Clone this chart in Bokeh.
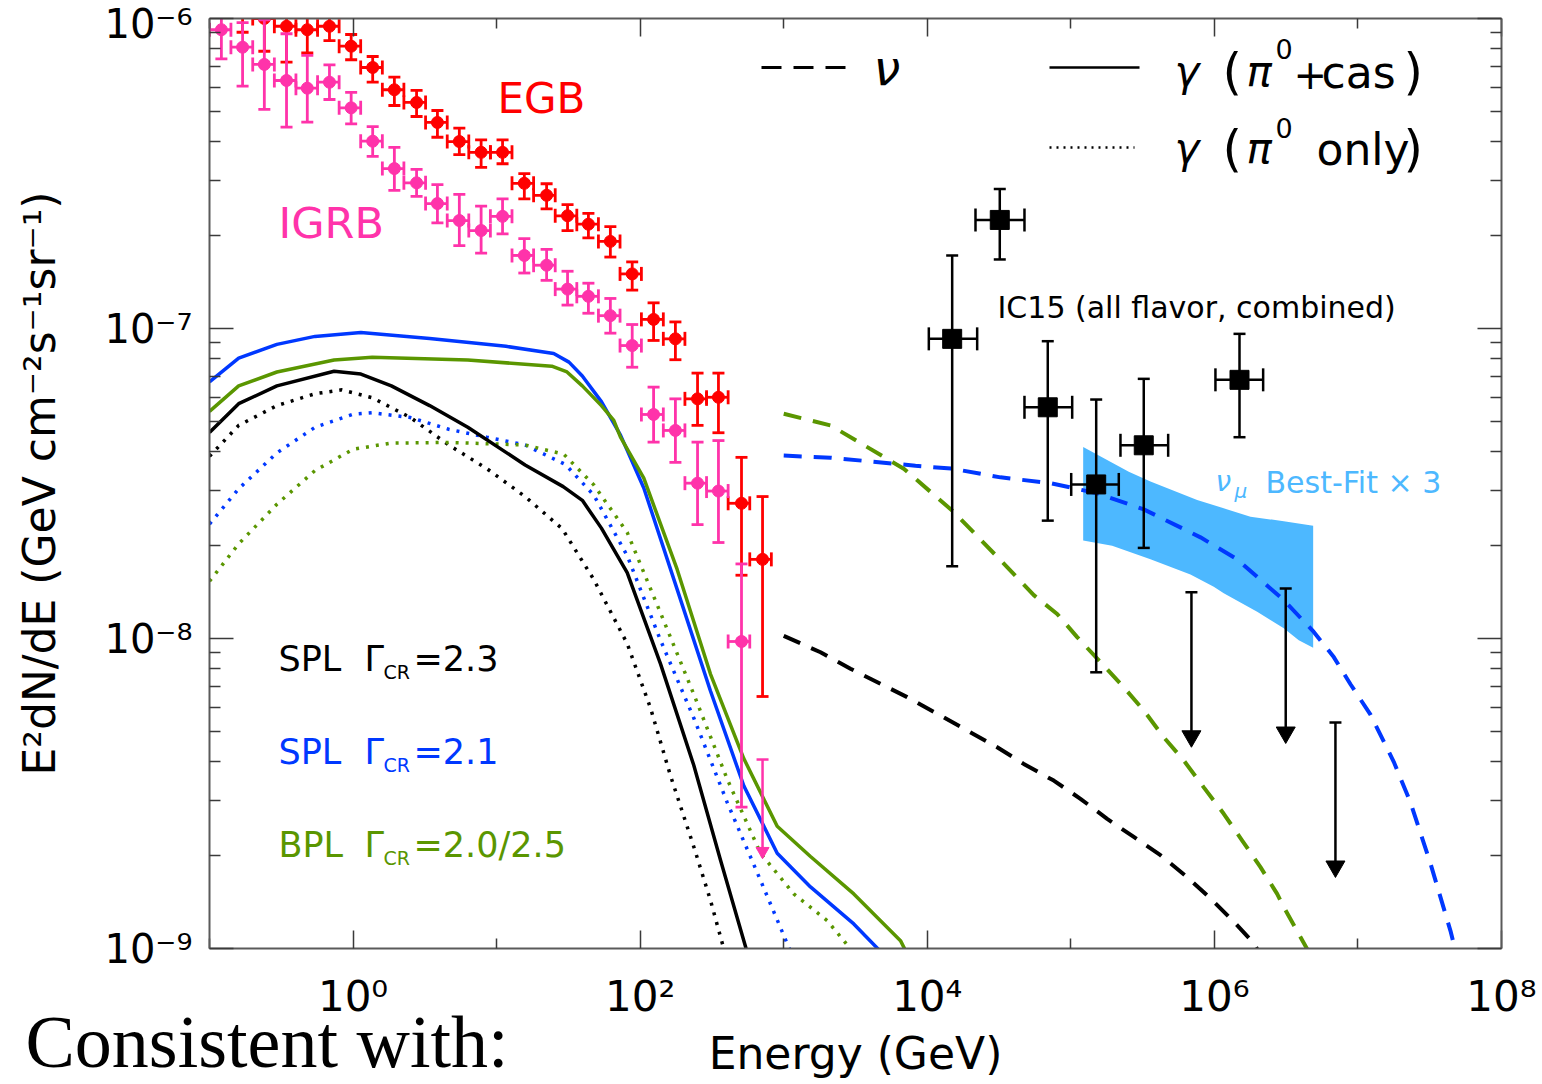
import numpy as np
from bokeh.plotting import figure
from bokeh.models import (Range1d, FixedTicker, LogAxis, Label, Title,
                          CustomJSTickFormatter)
from bokeh.embed import file_html
from bokeh.resources import INLINE

# ---------------------------------------------------------------------------
# Fermi-LAT extragalactic gamma-ray background (EGB) and isotropic background (IGRB)
# energies in GeV, E^2 dN/dE in GeV cm^-2 s^-1 sr^-1
fermi_energy = [0.121, 0.170, 0.241, 0.344, 0.48, 0.685, 0.97, 1.37, 1.94, 2.77, 3.87,
                5.5, 7.8, 11.0, 15.6, 22.3, 31.2, 43.6, 62.0, 88.0, 124.0, 176.0, 251.0,
                351.0, 508.0, 712.0]
fermi_edges = [0.1, 0.141, 0.2, 0.283, 0.4, 0.566, 0.8, 1.13, 1.6, 2.26, 3.2, 4.53, 6.4,
               9.05, 12.8, 18.1, 25.6, 36.2, 51.2, 72.4, 102.0, 145.0, 205.0, 290.0, 410.0,
               580.0, 820.0]

egb_flux = [1.33e-6, 1.13e-6, 1.00e-6, 9.44e-7, 9.20e-7, 9.44e-7, 8.14e-7, 6.95e-7, 5.89e-7,
            5.36e-7, 4.62e-7, 4.01e-7, 3.70e-7, 3.70e-7, 2.94e-7, 2.69e-7, 2.31e-7, 2.17e-7,
            1.91e-7, 1.50e-7, 1.07e-7, 9.26e-8, 5.93e-8, 6.00e-8, 2.73e-8, 1.80e-8]
egb_low = [1.04e-6, 9.03e-7, 7.84e-7, 7.23e-7, 7.75e-7, 8.49e-7, 7.36e-7, 6.23e-7, 5.24e-7,
           4.83e-7, 4.14e-7, 3.64e-7, 3.31e-7, 3.40e-7, 2.62e-7, 2.43e-7, 2.07e-7, 1.96e-7,
           1.70e-7, 1.33e-7, 9.15e-8, 7.93e-8, 4.87e-8, 4.61e-8, 1.60e-8, 6.5e-9]
egb_high = [1.70e-6, 1.40e-6, 1.25e-6, 1.23e-6, 1.09e-6, 1.05e-6, 8.88e-7, 7.54e-7, 6.47e-7,
            5.86e-7, 5.05e-7, 4.43e-7, 4.06e-7, 4.06e-7, 3.16e-7, 2.93e-7, 2.51e-7, 2.35e-7,
            2.13e-7, 1.64e-7, 1.21e-7, 1.05e-7, 7.18e-8, 7.18e-8, 3.84e-8, 2.87e-8]

igrb_flux = [9.20e-7, 8.08e-7, 7.11e-7, 6.31e-7, 5.96e-7, 6.23e-7, 5.15e-7, 4.02e-7, 3.28e-7,
             2.95e-7, 2.53e-7, 2.23e-7, 2.07e-7, 2.30e-7, 1.72e-7, 1.60e-7, 1.34e-7, 1.27e-7,
             1.10e-7, 8.81e-8, 5.28e-8, 4.69e-8, 3.17e-8, 2.99e-8, 9.78e-9]
igrb_low = [7.41e-7, 6.05e-7, 5.09e-7, 4.46e-7, 4.63e-7, 5.48e-7, 4.57e-7, 3.59e-7, 2.79e-7,
            2.67e-7, 2.19e-7, 1.85e-7, 1.75e-7, 2.02e-7, 1.51e-7, 1.43e-7, 1.19e-7, 1.12e-7,
            9.66e-8, 7.50e-8, 4.30e-8, 3.70e-8, 2.33e-8, 2.04e-8, 2.86e-9]
igrb_high = [1.14e-6, 9.70e-7, 9.90e-7, 8.93e-7, 7.60e-7, 7.09e-7, 5.78e-7, 4.48e-7, 3.84e-7,
             3.26e-7, 2.91e-7, 2.71e-7, 2.48e-7, 2.62e-7, 1.95e-7, 1.80e-7, 1.53e-7, 1.40e-7,
             1.25e-7, 1.03e-7, 6.47e-8, 5.93e-8, 4.30e-8, 4.35e-8, 1.74e-8]
igrb_ul_energy = [712.0]
igrb_ul_flux = [4.07e-9]

# IceCube combined all-flavor spectrum (IC15)
ic_energy = [1.491e4, 3.199e4, 6.908e4, 1.502e5, 3.221e5, 1.496e6]
ic_energy_low = [1.025e4, 2.167e4, 4.754e4, 1.006e5, 2.217e5, 1.017e6]
ic_energy_high = [2.226e4, 4.754e4, 1.022e5, 2.158e5, 4.764e5, 2.186e6]
ic_flux = [9.26e-8, 2.24e-7, 5.57e-8, 3.14e-8, 4.20e-8, 6.83e-8]
ic_flux_low = [1.71e-8, 1.67e-7, 2.40e-8, 7.78e-9, 1.96e-8, 4.46e-8]
ic_flux_high = [1.72e-7, 2.82e-7, 9.10e-8, 5.90e-8, 6.88e-8, 9.61e-8]
ic_ul_energy = [6.92e5, 3.14e6, 6.97e6]
ic_ul_flux = [1.41e-8, 1.45e-8, 5.36e-9]

# nu_mu best-fit band (x3)
band_energy_upper = [1.219e5, 2.533e5, 3.586e5, 7.585e5, 1.132e6, 1.784e6, 3.043e6, 4.876e6]
band_flux_upper = [4.15e-8, 3.45e-8, 3.21e-8, 2.80e-8, 2.64e-8, 2.47e-8, 2.39e-8, 2.31e-8]
band_energy_lower = [1.219e5, 1.94e5, 3.586e5, 6.81e5, 9.90e5, 1.162e6, 1.986e6, 3.043e6,
                     3.870e6, 4.876e6]
band_flux_lower = [2.07e-8, 1.99e-8, 1.80e-8, 1.61e-8, 1.47e-8, 1.40e-8, 1.22e-8, 1.08e-8,
                   9.87e-9, 9.34e-9]

# Model gamma-ray spectra: total (pi0 + cascade) and pi0 only
spl23_gam_E = [0.1, 0.1597, 0.2948, 0.7377, 1.134, 1.849, 3.414, 6.298, 15.79, 29.09, 39.54,
               53.7, 81.2, 138.6, 236.3, 362.6, 572.8]
spl23_gam_F = [4.62e-8, 5.72e-8, 6.53e-8, 7.28e-8, 7.13e-8, 6.53e-8, 5.64e-8, 4.80e-8, 3.63e-8,
               3.09e-8, 2.79e-8, 2.27e-8, 1.63e-8, 8.28e-9, 3.90e-9, 1.93e-9, 9.28e-10]
spl23_pi0_E = [0.1, 0.1597, 0.2948, 0.543, 0.835, 1.361, 2.513, 4.637, 8.557, 15.79, 28.63,
               47.53, 81.2, 118.0, 162.6, 236.3, 308.9, 399.2]
spl23_pi0_F = [3.87e-8, 4.87e-8, 5.64e-8, 6.16e-8, 6.34e-8, 5.98e-8, 5.16e-8, 4.21e-8, 3.53e-8,
               2.87e-8, 2.26e-8, 1.55e-8, 9.63e-9, 5.97e-9, 3.61e-9, 2.13e-9, 1.43e-9, 9.28e-10]

spl21_gam_E = [0.1, 0.1597, 0.2948, 0.543, 1.134, 3.414, 11.62, 24.98, 31.93, 39.54, 53.7,
               72.94, 106.0, 181.0, 308.9, 527.0, 900.5, 1536.0, 3076.0, 4797.0]
spl21_gam_F = [6.73e-8, 8.02e-8, 8.89e-8, 9.43e-8, 9.71e-8, 9.29e-8, 8.76e-8, 8.31e-8, 7.79e-8,
               7.03e-8, 5.81e-8, 4.53e-8, 3.06e-8, 1.44e-8, 6.77e-9, 3.35e-9, 2.03e-9, 1.58e-9,
               1.20e-9, 9.71e-10]
spl21_pi0_E = [0.1, 0.1597, 0.2948, 0.543, 1.002, 1.361, 2.513, 4.637, 8.557, 15.79, 30.19,
               47.53, 81.2, 138.6, 236.3, 403.8, 688.9, 1170.0]
spl21_pi0_F = [2.34e-8, 3.04e-8, 3.97e-8, 4.80e-8, 5.29e-8, 5.35e-8, 5.16e-8, 4.73e-8, 4.46e-8,
               4.21e-8, 3.64e-8, 2.90e-8, 1.85e-8, 9.87e-9, 5.54e-9, 2.96e-9, 1.66e-9, 9.28e-10]

bpl_gam_E = [0.1, 0.1597, 0.2948, 0.7377, 1.361, 6.298, 24.23, 30.93, 39.54, 53.7, 65.5,
             72.94, 106.0, 181.0, 308.9, 527.0, 900.5, 1536.0, 3076.0, 6508.0, 7164.0]
bpl_gam_F = [5.40e-8, 6.53e-8, 7.24e-8, 7.91e-8, 8.07e-8, 7.91e-8, 7.56e-8, 7.24e-8, 6.53e-8,
             5.64e-8, 5.05e-8, 4.46e-8, 3.29e-8, 1.67e-8, 7.68e-9, 4.10e-9, 2.48e-9, 1.98e-9,
             1.50e-9, 1.06e-9, 9.71e-10]
bpl_pi0_E = [0.1, 0.1597, 0.2948, 0.543, 1.002, 1.849, 4.637, 15.79, 29.38, 47.53, 81.2,
             138.6, 236.3, 403.8, 688.9, 1175.0, 2008.0, 3317.0]
bpl_pi0_F = [1.53e-8, 2.02e-8, 2.71e-8, 3.48e-8, 4.08e-8, 4.27e-8, 4.29e-8, 4.21e-8, 3.93e-8,
             3.13e-8, 2.20e-8, 1.21e-8, 6.61e-9, 3.52e-9, 2.03e-9, 1.50e-9, 1.23e-9, 9.28e-10]

# Model neutrino spectra (per flavor)
spl23_nu_E = [1000.0, 1804.0, 2917.0, 4721.0, 7244.0, 11720.0, 18970.0, 30680.0, 47000.0,
              76070.0, 116700.0, 179100.0, 274400.0, 421000.0, 646200.0, 939100.0, 1.365e6,
              1.881e6, 2.162e6]
spl23_nu_F = [1.02e-8, 9.03e-9, 7.99e-9, 7.14e-9, 6.47e-9, 5.72e-9, 5.05e-9, 4.46e-9, 3.94e-9,
              3.48e-9, 3.04e-9, 2.62e-9, 2.29e-9, 2.00e-9, 1.70e-9, 1.45e-9, 1.22e-9, 1.04e-9,
              9.28e-10]
spl21_nu_E = [1000.0, 2117.0, 8276.0, 14910.0, 32350.0, 72150.0, 152600.0, 322200.0, 800000.0,
              1.441e6, 3.043e6, 4.924e6, 6.786e6, 8.872e6, 1.223e7, 1.776e7, 2.322e7, 3.201e7,
              4.411e7, 4.934e7]
spl21_nu_F = [3.89e-8, 3.83e-8, 3.61e-8, 3.53e-8, 3.31e-8, 3.17e-8, 2.94e-8, 2.61e-8, 2.12e-8,
              1.80e-8, 1.33e-8, 1.05e-8, 8.71e-9, 7.12e-9, 5.68e-9, 4.00e-9, 2.96e-9, 1.88e-9,
              1.14e-9, 9.28e-10]
bpl_nu_E = [1000.0, 2117.0, 6860.0, 15300.0, 36000.0, 55200.0, 80330.0, 110700.0, 160900.0,
            233800.0, 322200.0, 444000.0, 612000.0, 843300.0, 1.162e6, 1.562e6, 2.094e6,
            2.737e6, 3.043e6, 4.822e6]
bpl_nu_F = [5.31e-8, 4.87e-8, 3.53e-8, 2.56e-8, 1.70e-8, 1.38e-8, 1.20e-8, 1.01e-8, 8.39e-9,
            6.96e-9, 5.86e-9, 4.80e-9, 4.04e-9, 3.31e-9, 2.72e-9, 2.23e-9, 1.83e-9, 1.50e-9,
            1.36e-9, 9.28e-10]

# ---------------------------------------------------------------------------
RED = "#ff0000"
PINK = "#ff33aa"
BLUE = "#0038ff"
GREEN = "#5a9600"
SKY = "#4db8ff"
FONT = "DejaVu Sans"
DESCENT = {"DejaVu Sans": 0.236, "Liberation Serif": 0.216}

W, H = 1542, 1084
LEFT, RIGHT, TOP, BOTTOM = 209, 41, 18, 136
FRAME_L, FRAME_B = LEFT, H - BOTTOM
FRAME_W, FRAME_H = W - LEFT - RIGHT, H - TOP - BOTTOM
X_MIN, X_MAX, Y_MIN, Y_MAX = 1e-1, 1e8, 1e-9, 1e-6
PX_PER_DEC_Y = FRAME_H / np.log10(Y_MAX / Y_MIN)


def px_x(cx):
    """Data energy at a horizontal canvas pixel (for decorations only)."""
    return 10 ** (np.log10(X_MIN) + (cx - FRAME_L) / FRAME_W * np.log10(X_MAX / X_MIN))


def px_y(cy):
    return 10 ** (np.log10(Y_MIN) + (FRAME_B - cy) / PX_PER_DEC_Y)


p = figure(width=W, height=H, x_axis_type="log", y_axis_type="log",
           x_range=Range1d(X_MIN, X_MAX), y_range=Range1d(Y_MIN, Y_MAX),
           output_backend="svg", toolbar_location=None,
           min_border_left=LEFT, min_border_right=RIGHT,
           min_border_top=TOP, min_border_bottom=BOTTOM)
p.grid.visible = False
p.outline_line_color = None
p.background_fill_color = "white"
p.border_fill_color = "white"

x_ticker = FixedTicker(ticks=[1.0, 1e2, 1e4, 1e6, 1e8],
                       minor_ticks=[1e-1, 1e1, 1e3, 1e5, 1e7])
y_ticker = FixedTicker(ticks=[1e-9, 1e-8, 1e-7, 1e-6],
                       minor_ticks=[m * 10.0 ** e for e in (-9, -8, -7) for m in range(2, 10)])

# "10" with a superscript exponent
power_of_ten = CustomJSTickFormatter(code="""
const sup = {"-": "\\u207b", "0": "\\u2070", "1": "\\u00b9", "2": "\\u00b2", "3": "\\u00b3",
             "4": "\\u2074", "5": "\\u2075", "6": "\\u2076", "7": "\\u2077", "8": "\\u2078",
             "9": "\\u2079"};
const e = Math.round(Math.log10(tick));
return "10" + String(e).split("").map(c => sup[c]).join("");
""")
blank = CustomJSTickFormatter(code="return ''")


def style_axis(ax, major, minor):
    ax.major_tick_in = major
    ax.major_tick_out = 0
    ax.minor_tick_in = minor
    ax.minor_tick_out = 0
    ax.major_tick_line_color = "#3a3a3a"
    ax.minor_tick_line_color = "#3a3a3a"
    ax.major_tick_line_width = 1.5
    ax.minor_tick_line_width = 1.5
    ax.axis_line_color = "#5a5a5a"
    ax.axis_line_width = 2


xaxis = p.xaxis[0]
xaxis.ticker = x_ticker
style_axis(xaxis, 18, 10)
xaxis.formatter = power_of_ten
xaxis.major_label_text_font = FONT
xaxis.major_label_text_font_size = "42px"
xaxis.major_label_text_color = "black"
xaxis.major_label_standoff = 23

yaxis = p.yaxis[0]
yaxis.ticker = y_ticker
style_axis(yaxis, 24, 11)
yaxis.formatter = power_of_ten
yaxis.major_label_text_font = FONT
yaxis.major_label_text_font_size = "40px"
yaxis.major_label_text_color = "black"
yaxis.major_label_standoff = 17
yaxis.axis_label = "E²dN/dE (GeV cm⁻²s⁻¹sr⁻¹)"
yaxis.axis_label_text_font = FONT
yaxis.axis_label_text_font_size = "44px"
yaxis.axis_label_text_font_style = "normal"
yaxis.axis_label_text_color = "black"
yaxis.axis_label_standoff = 36

for place, ticker, major, minor in (("right", y_ticker, 24, 11), ("above", x_ticker, 18, 10)):
    ax = LogAxis(ticker=ticker, formatter=blank)
    style_axis(ax, major, minor)
    ax.major_label_text_font_size = "2px"
    ax.major_label_standoff = 0
    p.add_layout(ax, place)

# caption below the tick numbers, pulled up beside the axis title
p.add_layout(Title(text="Consistent with:", text_font="Liberation Serif",
                   text_font_size="74px", text_font_style="normal", text_color="black",
                   align="left", offset=25 - FRAME_L, vertical_align="middle",
                   standoff=-48), "below")

# x-axis title on its own tick-less axis so it shares the caption's line
title_axis = LogAxis(ticker=FixedTicker(ticks=[]), formatter=blank,
                     axis_label="Energy (GeV)")
title_axis.axis_line_color = None
title_axis.major_tick_line_color = None
title_axis.minor_tick_line_color = None
title_axis.major_tick_in = 0
title_axis.major_tick_out = 0
title_axis.minor_tick_in = 0
title_axis.minor_tick_out = 0
title_axis.major_label_standoff = 0
title_axis.major_label_text_font_size = "2px"
title_axis.axis_label_text_font = FONT
title_axis.axis_label_text_font_size = "44px"
title_axis.axis_label_text_font_style = "normal"
title_axis.axis_label_text_color = "black"
title_axis.axis_label_standoff = -32
p.add_layout(title_axis, "below")


def put(text, cx, cy, size, color="black", font=FONT, style="normal", align="left"):
    """In-frame text with its baseline at canvas pixel (cx, cy)."""
    drop = DESCENT.get(font, 0.23) * size
    p.add_layout(Label(x=X_MIN, y=Y_MIN, x_offset=float(cx - FRAME_L),
                       y_offset=float(FRAME_B - cy - drop), text=text,
                       text_font=font, text_font_size=f"{size}px", text_font_style=style,
                       text_color=color, text_align=align, text_baseline="bottom"))


# ---------------------------------------------------------------------------
# shaded nu_mu best-fit band
p.patch(x=band_energy_upper + band_energy_lower[::-1],
        y=band_flux_upper + band_flux_lower[::-1],
        fill_color=SKY, line_color=None)

# gamma-ray model curves
solid = dict(line_width=3.5)
dotted = dict(line_width=3.5, line_dash="3 7")
dashed = dict(line_width=4, line_dash="18 12")
p.line(spl23_pi0_E, spl23_pi0_F, line_color="black", **dotted)
p.line(spl21_pi0_E, spl21_pi0_F, line_color=BLUE, **dotted)
p.line(bpl_pi0_E, bpl_pi0_F, line_color=GREEN, **dotted)
p.line(spl23_gam_E, spl23_gam_F, line_color="black", **solid)
p.line(spl21_gam_E, spl21_gam_F, line_color=BLUE, **solid)
p.line(bpl_gam_E, bpl_gam_F, line_color=GREEN, **solid)

# neutrino model curves
p.line(spl23_nu_E, spl23_nu_F, line_color="black", **dashed)
p.line(spl21_nu_E, spl21_nu_F, line_color=BLUE, **dashed)
p.line(bpl_nu_E, bpl_nu_F, line_color=GREEN, **dashed)


def points(E, F, lo, hi, elo, ehi, color, marker, size, cap_v, cap_h, lw=2.5):
    p.segment(x0=E, y0=lo, x1=E, y1=hi, line_color=color, line_width=lw)
    p.segment(x0=elo, y0=F, x1=ehi, y1=F, line_color=color, line_width=lw)
    p.scatter(x=list(E) + list(E), y=list(lo) + list(hi), marker="dash", size=cap_v,
              line_color=color, line_width=lw)
    p.scatter(x=list(elo) + list(ehi), y=list(F) + list(F), marker="dash", angle=np.pi / 2,
              size=cap_h, line_color=color, line_width=lw)
    p.scatter(x=E, y=F, marker=marker, size=size, fill_color=color, line_color=color)


def upper_limits(E, top, decades, color, head, lw=2.5):
    """Cap at the limit, shaft down `decades`, inverted-triangle head ending at the tip."""
    tip = [f / 10 ** decades for f in top]
    # triangle marker: apex sits 2/3 of its height below the marker centre
    apex_px = head / 2 * np.sqrt(3) * 2 / 3
    centre = [t * 10 ** (apex_px / PX_PER_DEC_Y) for t in tip]
    p.segment(x0=E, y0=top, x1=E, y1=centre, line_color=color, line_width=lw)
    p.scatter(x=E, y=top, marker="dash", size=12, line_color=color, line_width=lw)
    p.scatter(x=E, y=centre, marker="inverted_triangle", size=head, fill_color=color,
              line_color=color, line_width=1)


n_igrb = len(igrb_flux)
points(fermi_energy, egb_flux, egb_low, egb_high, fermi_edges[:-1], fermi_edges[1:],
       RED, "circle", 12, 12, 14, lw=2.8)
points(fermi_energy[:n_igrb], igrb_flux, igrb_low, igrb_high,
       fermi_edges[:n_igrb], fermi_edges[1:n_igrb + 1], PINK, "circle", 12, 12, 14, lw=2.8)
upper_limits(igrb_ul_energy, igrb_ul_flux, 0.32, PINK, 13)
points(ic_energy, ic_flux, ic_flux_low, ic_flux_high, ic_energy_low, ic_energy_high,
       "black", "square", 19, 12, 23, lw=2.5)
upper_limits(ic_ul_energy, ic_ul_flux, 0.5, "black", 19)

# ---------------------------------------------------------------------------
# line-style key
p.segment(x0=[px_x(761)], y0=[px_y(67)], x1=[px_x(845)], y1=[px_y(67)],
          line_color="black", line_width=3, line_dash="20 12")
p.segment(x0=[px_x(1049)], y0=[px_y(67)], x1=[px_x(1139)], y1=[px_y(67)],
          line_color="black", line_width=2.5)
p.segment(x0=[px_x(1049)], y0=[px_y(147)], x1=[px_x(1134)], y1=[px_y(147)],
          line_color="black", line_width=2.5, line_dash="2 5")

put("ν", 873, 84, 48, style="italic")
for base, sup_base, tail in ((87, 52, "cas"), (164, 131, "only")):
    put("γ", 1174, base - 1, 42, style="italic")
    put("(", 1222, base + 2, 50)
    put("π", 1246, base - 1, 42, style="italic")
    put("0", 1275, sup_base, 27)
    if tail == "cas":
        put("+", 1293, base - 8, 40)
        put("cas", 1321, base, 44)
    else:
        put("only", 1316, base, 44)
    put(")", 1403, base + 2, 50)

# ---------------------------------------------------------------------------
# in-plot annotations
put("EGB", 497, 113, 42, color=RED)
put("IGRB", 278, 237, 43, color=PINK)
put("IC15 (all flavor, combined)", 997, 317, 30)

put("ν", 1215, 491, 28, color=SKY, style="italic")
put("μ", 1234, 498, 20, color=SKY, style="italic")
put("Best-Fit × 3", 1265, 492, 30, color=SKY)

for name, val, color, base in (("SPL", "=2.3", "black", 670), ("SPL", "=2.1", BLUE, 763),
                               ("BPL", "=2.0/2.5", GREEN, 856)):
    put(name, 278, base, 35, color=color)
    put("Γ", 364, base, 35, color=color)
    put("CR", 383, base + 8, 19, color=color)
    put(val, 413, base, 35, color=color)

open("out.html", "w").write(file_html(p, INLINE, "Diffuse spectra"))
